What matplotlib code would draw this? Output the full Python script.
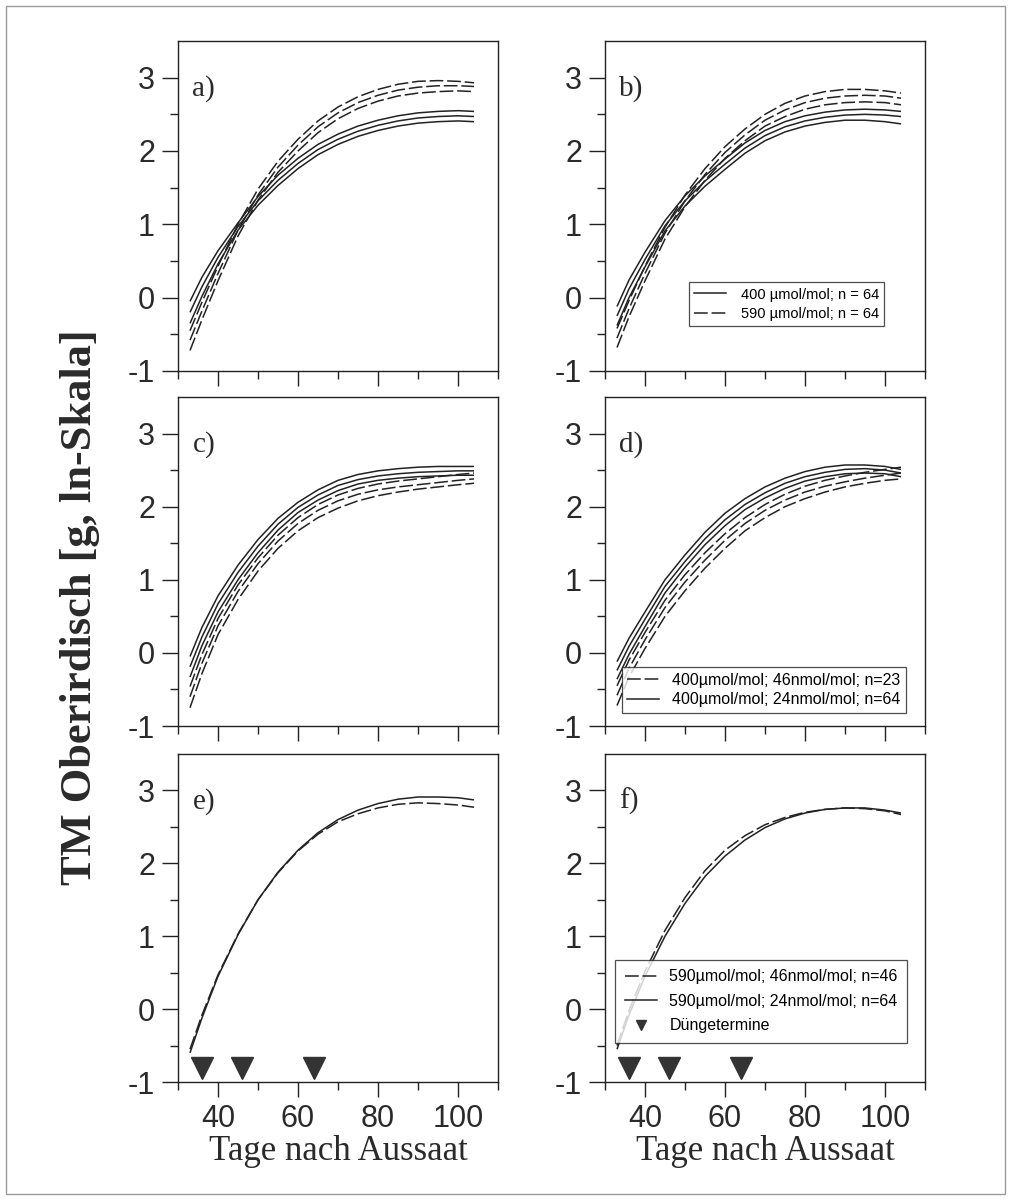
import matplotlib
matplotlib.use("Agg")
import matplotlib.pyplot as plt
from matplotlib.lines import Line2D
from matplotlib.patches import Rectangle

plt.rcParams['axes.unicode_minus'] = False

# ---------------- data ----------------
days = [33, 36, 40, 45, 50, 55, 60, 65, 70, 75, 80, 85, 90, 95, 100, 104]

# panel a: 400 (solid) vs 590 µmol/mol (dashed); upper / mean / lower
a_solid = [
    [-0.05, 0.28, 0.64, 1.02, 1.38, 1.67, 1.90, 2.09, 2.23, 2.34, 2.42, 2.48, 2.52, 2.54, 2.55, 2.54],
    [-0.20, 0.15, 0.55, 0.97, 1.32, 1.60, 1.83, 2.02, 2.16, 2.27, 2.35, 2.41, 2.45, 2.47, 2.48, 2.47],
    [-0.35, 0.02, 0.46, 0.92, 1.26, 1.53, 1.76, 1.95, 2.09, 2.20, 2.28, 2.34, 2.38, 2.40, 2.41, 2.40],
]
a_dashed = [
    [-0.45, -0.06, 0.43, 1.00, 1.48, 1.86, 2.16, 2.41, 2.60, 2.74, 2.84, 2.91, 2.95, 2.96, 2.95, 2.93],
    [-0.58, -0.18, 0.33, 0.92, 1.40, 1.78, 2.08, 2.33, 2.52, 2.66, 2.76, 2.83, 2.87, 2.89, 2.89, 2.88],
    [-0.72, -0.30, 0.23, 0.84, 1.33, 1.71, 2.00, 2.25, 2.44, 2.58, 2.68, 2.75, 2.79, 2.81, 2.82, 2.81],
]
# panel b
b_solid = [
    [-0.12, 0.24, 0.62, 1.05, 1.39, 1.66, 1.89, 2.11, 2.28, 2.40, 2.48, 2.53, 2.56, 2.57, 2.56, 2.54],
    [-0.25, 0.12, 0.52, 0.98, 1.32, 1.59, 1.82, 2.04, 2.21, 2.33, 2.41, 2.46, 2.49, 2.50, 2.49, 2.47],
    [-0.38, 0.00, 0.42, 0.91, 1.25, 1.52, 1.75, 1.97, 2.14, 2.26, 2.34, 2.39, 2.42, 2.42, 2.40, 2.37],
]
b_dashed = [
    [-0.42, -0.04, 0.43, 0.96, 1.40, 1.76, 2.06, 2.30, 2.50, 2.65, 2.75, 2.81, 2.84, 2.84, 2.82, 2.79],
    [-0.55, -0.15, 0.33, 0.88, 1.32, 1.68, 1.98, 2.22, 2.42, 2.56, 2.66, 2.72, 2.75, 2.76, 2.75, 2.72],
    [-0.68, -0.26, 0.23, 0.80, 1.24, 1.60, 1.90, 2.14, 2.34, 2.47, 2.57, 2.63, 2.66, 2.67, 2.66, 2.63],
]
# panel c
c_solid = [
    [-0.05, 0.35, 0.78, 1.20, 1.55, 1.84, 2.06, 2.23, 2.36, 2.44, 2.49, 2.52, 2.54, 2.55, 2.55, 2.55],
    [-0.19, 0.22, 0.67, 1.10, 1.46, 1.76, 1.99, 2.16, 2.29, 2.37, 2.42, 2.45, 2.47, 2.48, 2.49, 2.49],
    [-0.33, 0.10, 0.56, 1.00, 1.37, 1.68, 1.92, 2.09, 2.22, 2.31, 2.36, 2.39, 2.41, 2.42, 2.43, 2.43],
]
c_dashed = [
    [-0.46, -0.02, 0.47, 0.93, 1.30, 1.61, 1.85, 2.03, 2.16, 2.25, 2.31, 2.35, 2.38, 2.41, 2.44, 2.46],
    [-0.60, -0.14, 0.37, 0.84, 1.22, 1.53, 1.77, 1.95, 2.08, 2.17, 2.23, 2.27, 2.30, 2.33, 2.36, 2.38],
    [-0.75, -0.28, 0.25, 0.73, 1.12, 1.43, 1.67, 1.85, 1.98, 2.08, 2.15, 2.20, 2.24, 2.27, 2.30, 2.32],
]
# panel d
d_solid = [
    [-0.12, 0.20, 0.56, 1.00, 1.34, 1.65, 1.91, 2.11, 2.27, 2.39, 2.48, 2.54, 2.57, 2.57, 2.55, 2.51],
    [-0.24, 0.09, 0.46, 0.91, 1.25, 1.56, 1.82, 2.03, 2.19, 2.32, 2.41, 2.47, 2.51, 2.52, 2.50, 2.46],
    [-0.36, -0.02, 0.36, 0.82, 1.17, 1.48, 1.74, 1.96, 2.12, 2.25, 2.35, 2.41, 2.45, 2.46, 2.45, 2.41],
]
d_dashed = [
    [-0.45, -0.10, 0.28, 0.72, 1.07, 1.37, 1.63, 1.85, 2.03, 2.17, 2.28, 2.36, 2.42, 2.47, 2.51, 2.54],
    [-0.58, -0.21, 0.18, 0.62, 0.97, 1.27, 1.54, 1.77, 1.95, 2.09, 2.20, 2.28, 2.34, 2.39, 2.43, 2.46],
    [-0.72, -0.33, 0.06, 0.50, 0.85, 1.16, 1.43, 1.67, 1.85, 2.00, 2.11, 2.20, 2.27, 2.32, 2.36, 2.38],
]
# panel e / f: single curves
e_solid = [[-0.60, -0.12, 0.45, 1.02, 1.50, 1.88, 2.18, 2.42, 2.60, 2.73, 2.82, 2.88, 2.91, 2.91, 2.90, 2.87]]
e_dashed = [[-0.55, -0.08, 0.47, 1.03, 1.50, 1.87, 2.17, 2.40, 2.57, 2.68, 2.76, 2.81, 2.83, 2.82, 2.80, 2.77]]
f_solid = [[-0.55, -0.08, 0.45, 1.00, 1.45, 1.82, 2.10, 2.32, 2.49, 2.61, 2.69, 2.74, 2.76, 2.76, 2.73, 2.69]]
f_dashed = [[-0.50, -0.02, 0.52, 1.08, 1.53, 1.90, 2.18, 2.38, 2.53, 2.63, 2.70, 2.74, 2.76, 2.75, 2.72, 2.67]]

fert_days = [36, 46, 64]
fert_level = [-0.81, -0.81, -0.81]

panel_letters = ['a)', 'b)', 'c)', 'd)', 'e)', 'f)']
x_major = [40, 60, 80, 100]
x_minor = [30, 50, 70, 90, 110]
y_major = [-1, 0, 1, 2, 3]
y_minor = [-0.5, 0.5, 1.5, 2.5]

leg_b = ['400 µmol/mol; n = 64', '590 µmol/mol; n = 64']
leg_d = ['400µmol/mol; 46nmol/mol; n=23', '400µmol/mol; 24nmol/mol; n=64']
leg_f = ['590µmol/mol; 46nmol/mol; n=46', '590µmol/mol; 24nmol/mol; n=64', 'Düngetermine']

ylabel = 'TM Oberirdisch [g, ln-Skala]'
xlabel = 'Tage nach Aussaat'

# ---------------- figure ----------------
W, H = 1011, 1200
fig = plt.figure(figsize=(W / 100, H / 100), dpi=100)
INK = '#222222'
TXT = '#2a2a2a'
SANS = 'Liberation Sans'
SERIF = 'Liberation Serif'
DASH = (0, (9, 2.5))

col_x = [178, 605]
col_w = 320
rows = [(41, 371), (397, 726), (754, 1082)]

panels = [
    (a_solid, a_dashed), (b_solid, b_dashed),
    (c_solid, c_dashed), (d_solid, d_dashed),
    (e_solid, e_dashed), (f_solid, f_dashed),
]

axes = []
for i, (sol, das) in enumerate(panels):
    r, c = divmod(i, 2)
    top, bot = rows[r]
    ax = fig.add_axes([col_x[c] / W, (H - bot) / H, col_w / W, (bot - top) / H])
    axes.append(ax)
    for ys in sol:
        ax.plot(days, ys, color=INK, lw=1.1, solid_capstyle='butt')
    for ys in das:
        ax.plot(days, ys, color=INK, lw=1.1, linestyle=DASH)
    ax.set_xlim(30, 110)
    ax.set_ylim(-1, 3.5)
    ax.set_xticks(x_major)
    ax.set_xticks(x_minor, minor=True)
    ax.set_yticks(y_major)
    ax.set_yticks(y_minor, minor=True)
    ax.tick_params(which='both', direction='out', top=False, right=False,
                   color=INK, width=1.0)
    ax.tick_params(axis='y', which='major', length=11.5, pad=5)
    ax.tick_params(axis='y', which='minor', length=5.5)
    ax.tick_params(axis='x', which='major', length=11, pad=5)
    ax.tick_params(axis='x', which='minor', length=5.5)
    ax.set_yticklabels([str(v) for v in y_major], fontfamily=SANS, fontsize=22, color=TXT)
    if r == 2:
        ax.set_xticklabels([str(v) for v in x_major], fontfamily=SANS, fontsize=22, color=TXT)
    else:
        ax.set_xticklabels([])
    for sp in ax.spines.values():
        sp.set_color(INK)
        sp.set_linewidth(1.0)
    ax.text(0.045, 0.855, panel_letters[i], transform=ax.transAxes,
            fontfamily=SERIF, fontsize=21, color=TXT, ha='left', va='center')

# fertilisation markers
for ax in (axes[4], axes[5]):
    ax.plot(fert_days, fert_level, linestyle='none', marker='v', markersize=16,
            color='#333333', clip_on=False)

# legends
h_sol = Line2D([], [], color=INK, lw=1.1)
h_das = Line2D([], [], color=INK, lw=1.1, linestyle=DASH)
h_tri = Line2D([], [], color='#333333', linestyle='none', marker='v', markersize=7)

lg = axes[1].legend([h_sol, h_das], leg_b, loc='lower right', bbox_to_anchor=(0.895, 0.115),
                    prop={'family': SANS, 'size': 10.5}, frameon=True, fancybox=False,
                    edgecolor=INK, handlelength=2.2, borderpad=0.35, labelspacing=0.35,
                    handletextpad=1.0)
lg.get_frame().set_linewidth(0.9)

lg = axes[3].legend([h_das, h_sol], leg_d, loc='lower right', bbox_to_anchor=(0.965, 0.015),
                    prop={'family': SANS, 'size': 11.5}, frameon=True, fancybox=False,
                    edgecolor=INK, handlelength=2.0, borderpad=0.35, labelspacing=0.3,
                    handletextpad=0.8)
lg.get_frame().set_linewidth(0.9)

lg = axes[5].legend([h_das, h_sol, h_tri], leg_f, loc='lower right', bbox_to_anchor=(0.97, 0.095),
                    prop={'family': SANS, 'size': 11.5}, frameon=True, fancybox=False,
                    edgecolor=INK, handlelength=2.0, borderpad=0.6, labelspacing=0.6,
                    handletextpad=0.8)
lg.get_frame().set_linewidth(0.9)

# axis titles
fig.text(80 / W, 1 - 607 / H, ylabel, rotation=90, ha='center', va='center',
         fontfamily=SERIF, fontweight='bold', fontsize=32, color=TXT)
for c in range(2):
    fig.text((col_x[c] + col_w / 2) / W, 1 - 1135 / H, xlabel, ha='center', va='top',
             fontfamily=SERIF, fontsize=25, color=TXT)

# page border of the scan
fig.patches.append(Rectangle((6 / W, 6 / H), 1 - 12 / W, 1 - 12 / H, transform=fig.transFigure,
                             fill=False, edgecolor='#9a9a9a', lw=1.0))

fig.savefig('out.png', dpi=100)
